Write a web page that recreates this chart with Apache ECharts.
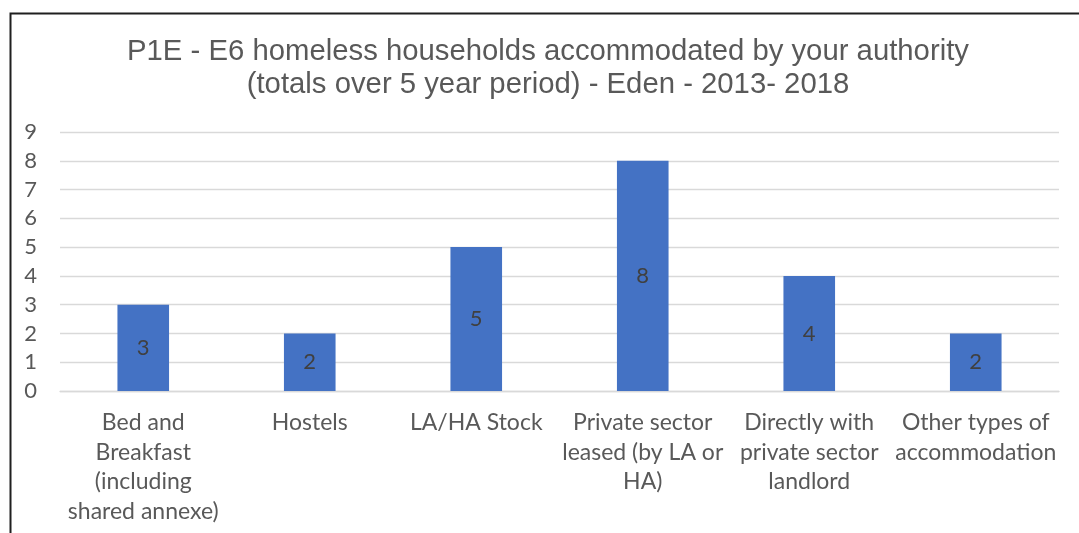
<!DOCTYPE html>
<html>
<head>
<meta charset="utf-8">
<style>
  html, body { margin: 0; padding: 0; background: #ffffff; }
  #chart { width: 1079px; height: 533px; }
</style>
<script src="https://cdn.jsdelivr.net/npm/echarts@6/dist/echarts.min.js"></script>
</head>
<body>
<div id="chart"></div>
<script>
// Accommodation types (line breaks as shown under the axis)
const categories = [
  'Bed and\nBreakfast\n(including\nshared annexe)',
  'Hostels',
  'LA/HA Stock',
  'Private sector\nleased (by LA or\nHA)',
  'Directly with\nprivate sector\nlandlord',
  'Other types of\naccommodation'
];
// Households accommodated, totals 2013-2018
const households = [3, 2, 5, 8, 4, 2];
// Value axis ticks
const yTicks = [0, 1, 2, 3, 4, 5, 6, 7, 8, 9];

const titleText = 'P1E - E6 homeless households accommodated by your authority\n(totals over 5 year period) - Eden - 2013- 2018';
const labelFont = 'Lato, "Open Sans", sans-serif';

const chart = echarts.init(document.getElementById('chart'), null, { renderer: 'canvas' });

chart.setOption({
  backgroundColor: '#ffffff',
  animation: false,
  graphic: [{
    type: 'rect',
    left: 8,
    top: 11,
    shape: { x: 0, y: 0, width: 1200, height: 700 },
    style: { fill: 'none', stroke: '#1f1f1f', lineWidth: 2 },
    silent: true,
    z: 100
  }],
  title: {
    text: titleText,
    left: 548,
    textAlign: 'center',
    top: 35,
    padding: 0,
    textStyle: {
      fontFamily: '"Liberation Sans", Arial, sans-serif',
      fontSize: 29.3,
      fontWeight: 'normal',
      color: '#595959',
      lineHeight: 33
    }
  },
  grid: { left: 60, right: 20, top: 132, bottom: 142, containLabel: false },
  xAxis: {
    type: 'category',
    data: categories,
    axisLine: { show: true, lineStyle: { color: '#d9d9d9', width: 1.3 } },
    axisTick: { show: false },
    axisLabel: {
      interval: 0,
      margin: 17,
      fontFamily: labelFont,
      fontSize: 23,
      lineHeight: 29.5,
      color: '#595959'
    }
  },
  yAxis: {
    type: 'value',
    min: yTicks[0],
    max: yTicks[yTicks.length - 1],
    interval: 1,
    axisLine: { show: false },
    axisTick: { show: false },
    splitLine: { lineStyle: { color: '#d9d9d9', width: 1.3 } },
    axisLabel: {
      margin: 23,
      fontFamily: labelFont,
      fontSize: 22,
      color: '#595959'
    }
  },
  series: [{
    type: 'bar',
    data: households,
    barWidth: '31%',
    itemStyle: { color: '#4472c4' },
    label: {
      show: true,
      position: 'inside',
      fontFamily: labelFont,
      fontSize: 22,
      color: '#404040'
    }
  }]
});
</script>
</body>
</html>
